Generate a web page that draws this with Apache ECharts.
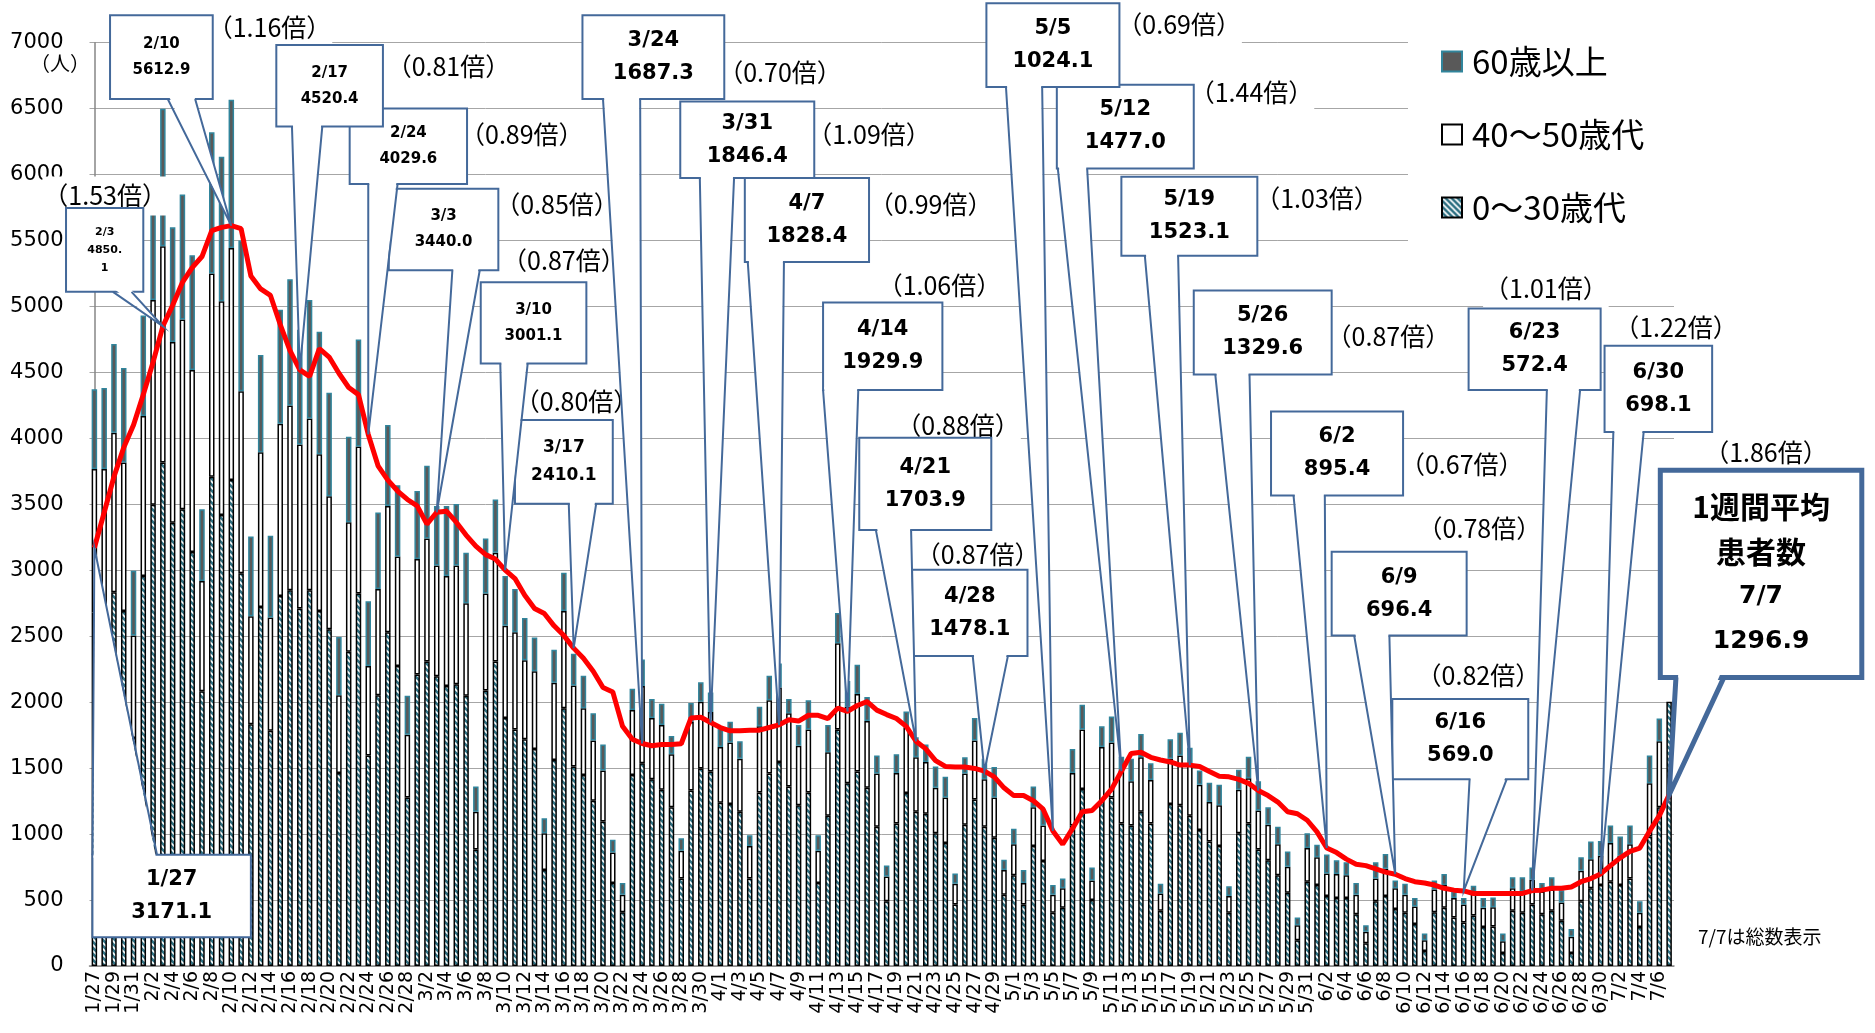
<!DOCTYPE html>
<html>
<head>
<meta charset="utf-8">
<script src="https://cdn.jsdelivr.net/npm/echarts@6/dist/echarts.min.js"></script>
<style>
  html, body { margin: 0; padding: 0; background: #fff; }
  #chart { width: 1875px; height: 1033px; }
</style>
</head>
<body>
<div id="chart"></div>
<script>
// 日付 1/27 ～ 7/7
var monthRanges = [[1, 27, 31], [2, 1, 28], [3, 1, 31], [4, 1, 30], [5, 1, 31], [6, 1, 30], [7, 1, 7]];
var days = [];
monthRanges.forEach(function (m) {
  for (var d = m[1]; d <= m[2]; d++) days.push(m[0] + '/' + d);
});

// 0～30歳代 (7/7 は総数)
var young = [
  2680, 2662, 2834, 2692, 1729, 2957, 3497, 3817, 3360, 3463,
  3139, 2083, 3709, 3419, 3684, 2977, 1832, 2721, 1783, 2805,
  2849, 2711, 2849, 2692, 2554, 1464, 2382, 2824, 1596, 2053,
  2530, 2274, 1277, 2210, 2309, 2196, 2122, 2137, 2048, 884,
  2088, 2309, 1881, 1793, 1719, 1646, 727, 1562, 1955, 1513,
  1449, 1253, 1095, 629, 408, 1449, 1537, 1415, 1336, 1203,
  663, 1330, 1498, 1474, 1238, 1228, 1169, 663, 1316, 1459,
  1547, 1361, 1218, 1316, 629, 1140, 1793, 1385, 1474, 1351,
  1056, 491, 1081, 1312, 1169, 1154, 1007, 933, 467, 1071,
  1262, 1056, 973, 540, 688, 467, 909, 796, 403, 442,
  1066, 1341, 501, 1253, 1277, 1081, 1066, 1169, 1081, 418,
  1228, 1218, 1140, 1032, 943, 909, 403, 1007, 1081, 884,
  801, 688, 555, 196, 639, 614, 530, 516, 516, 393,
  172, 491, 530, 432, 403, 319, 113, 408, 442, 368,
  329, 383, 295, 300, 98, 418, 403, 467, 393, 418,
  344, 98, 491, 589, 614, 639, 614, 663, 295, 982,
  1203, 2004
];
// 40～50歳代
var middle = [
  1088, 1106, 1209, 1125, 776, 1213, 1553, 1640, 1370, 1439,
  1380, 835, 1542, 1621, 1759, 1380, 820, 1174, 860, 1306,
  1400, 1243, 1302, 1188, 1007, 589, 983, 1115, 678, 806,
  958, 830, 477, 875, 933, 840, 835, 899, 703, 285,
  736, 825, 698, 737, 599, 589, 280, 585, 737, 614,
  506, 456, 388, 231, 132, 491, 585, 466, 491, 403,
  211, 520, 506, 451, 422, 467, 403, 246, 501, 555,
  565, 555, 452, 477, 245, 481, 653, 580, 589, 506,
  403, 187, 383, 496, 413, 393, 344, 344, 157, 388,
  447, 359, 304, 187, 235, 162, 294, 270, 137, 147,
  398, 452, 147, 407, 418, 402, 334, 413, 329, 132,
  344, 378, 383, 343, 300, 309, 127, 329, 343, 295,
  270, 235, 197, 113, 255, 211, 172, 182, 172, 147,
  88, 172, 207, 157, 137, 133, 83, 172, 172, 148,
  138, 167, 147, 145, 89, 171, 162, 186, 172, 162,
  137, 123, 231, 221, 221, 294, 221, 260, 108, 403,
  501, null
];
// 60歳以上
var senior = [
  604, 614, 673, 717, 491, 762, 854, 1042, 870, 948,
  870, 545, 1071, 1095, 1124, 1144, 605, 737, 619, 865,
  958, 870, 899, 929, 786, 442, 648, 811, 491, 579,
  614, 541, 294, 516, 550, 452, 531, 466, 383, 192,
  418, 403, 378, 329, 320, 255, 113, 250, 290, 241,
  246, 207, 197, 98, 89, 162, 201, 143, 162, 138,
  94, 144, 147, 148, 148, 157, 132, 83, 148, 187,
  182, 108, 157, 221, 118, 206, 231, 196, 221, 182,
  137, 83, 142, 122, 152, 133, 162, 157, 78, 123,
  172, 157, 231, 79, 118, 98, 158, 123, 74, 74,
  182, 187, 99, 157, 196, 104, 172, 177, 127, 74,
  147, 172, 132, 108, 147, 157, 74, 152, 163, 221,
  132, 133, 117, 59, 113, 94, 143, 103, 98, 89,
  49, 123, 113, 59, 84, 64, 50, 68, 84, 49,
  49, 59, 74, 75, 59, 84, 108, 94, 64, 93,
  94, 59, 103, 133, 113, 133, 147, 143, 88, 211,
  172, null
];
// 1週間平均
var weekAvg = [
  3171, 3438, 3709, 3930, 4102, 4332, 4578, 4850, 5010, 5182,
  5295, 5379, 5575, 5600, 5613, 5590, 5231, 5133, 5084, 4863,
  4666, 4520, 4470, 4681, 4617, 4494, 4386, 4332, 4030, 3792,
  3684, 3601, 3537, 3488, 3350, 3440, 3448, 3365, 3267, 3183,
  3119, 3085, 3001, 2937, 2810, 2711, 2672, 2579, 2505, 2410,
  2333, 2235, 2112, 2078, 1817, 1719, 1687, 1670, 1680, 1680,
  1685, 1881, 1886, 1846, 1808, 1783, 1783, 1788, 1788, 1808,
  1828, 1867, 1857, 1901, 1901, 1876, 1955, 1930, 1975, 2004,
  1940, 1906, 1876, 1817, 1704, 1646, 1557, 1513, 1508, 1508,
  1498, 1478, 1434, 1351, 1292, 1292, 1253, 1189, 1024, 923,
  1041, 1169, 1179, 1253, 1341, 1477, 1611, 1621, 1582, 1562,
  1547, 1523, 1523, 1513, 1474, 1439, 1434, 1415, 1385, 1330,
  1292, 1243, 1169, 1154, 1105, 1017, 895, 860, 810, 771,
  761, 737, 712, 696, 663, 639, 629, 614, 589, 575,
  569, 550, 550, 550, 550, 550, 550, 572, 575, 589,
  589, 599, 639, 663, 698, 761, 820, 869, 894, 1022,
  1140, 1297
];

var calloutDates = ['1/27', '2/3', '2/10', '2/17', '2/24', '3/3', '3/10', '3/17', '3/24', '3/31', '4/7', '4/14',
  '4/21', '4/28', '5/5', '5/12', '5/19', '5/26', '6/2', '6/9', '6/16', '6/23', '6/30', '7/7'];
var calloutValues = ['3171.1', '4850.1', '5612.9', '4520.4', '4029.6', '3440.0', '3001.1', '2410.1', '1687.3',
  '1846.4', '1828.4', '1929.9', '1703.9', '1478.1', '1024.1', '1477.0', '1523.1', '1329.6', '895.4', '696.4',
  '569.0', '572.4', '698.1', '1296.9'];
var ratios = [null, '1.53', '1.16', '0.81', '0.89', '0.85', '0.87', '0.80', '0.70', '1.09', '0.99', '1.06',
  '0.88', '0.87', '0.69', '1.44', '1.03', '0.87', '0.67', '0.78', '0.82', '1.01', '1.22', '1.86'];

// 吹き出しの配置 (x: 日付番号, y: 人数の軸上)
var calloutLayout = [
  { box: [-0.2, 16.0, 844, 218], base: [-0.2, 6.4], up: true, fs: 21, lh: 33 },
  { box: [-2.9, 5.0, 5747, 5111], base: [1.9, 3.8], r: [1.1, 5838], fs: 11, lh: 18, text: '2/3\n4850.\n1' },
  { box: [1.6, 12.1, 7209, 6573], base: [7.5, 10.3], r: [17.9, 7118], fs: 15, lh: 26 },
  { box: [18.6, 29.5, 6982, 6364], base: [20.2, 23.3], r: [36.2, 6818], fs: 15, lh: 26 },
  { box: [26.1, 38.1, 6501, 5929], base: [28.0, 31.0], r: [43.7, 6301], fs: 15, lh: 26 },
  { box: [30.1, 41.3, 5892, 5275], base: [36.6, 39.4], r: [47.3, 5774], fs: 15, lh: 26 },
  { box: [39.5, 50.3, 5184, 4567], base: [41.5, 44.3], r: [48.0, 5347], fs: 15, lh: 26 },
  { box: [43.0, 53.0, 4140, 3504], base: [48.5, 51.3], r: [49.3, 4276], fs: 17, lh: 28 },
  { box: [49.9, 64.4, 7209, 6573], base: [52.0, 55.8], r: [70.1, 6773], fs: 21, lh: 33 },
  { box: [59.9, 73.6, 6555, 5974], base: [61.9, 65.4], r: [79.2, 6301], fs: 21, lh: 33 },
  { box: [66.5, 79.2, 5974, 5338], base: [66.8, 70.5], r: [85.5, 5774], fs: 21, lh: 33 },
  { box: [74.5, 86.7, 5030, 4367], base: [74.5, 78.1], r: [86.4, 5157], fs: 21, lh: 33 },
  { box: [78.2, 91.7, 4004, 3305], base: [79.9, 83.5], r: [88.3, 4095], fs: 21, lh: 33 },
  { box: [83.6, 95.4, 3005, 2351], base: [89.8, 93.4], r: [90.3, 3123], fs: 21, lh: 33 },
  { box: [91.2, 104.8, 7300, 6664], base: [93.2, 96.9], r: [110.9, 7136], fs: 21, lh: 33 },
  { box: [98.4, 112.4, 6682, 6047], base: [98.5, 101.5], r: [118.3, 6619], fs: 21, lh: 33 },
  { box: [105.0, 118.9, 5983, 5384], base: [107.4, 110.8], r: [125.0, 5820], fs: 21, lh: 33 },
  { box: [112.4, 126.5, 5121, 4485], base: [114.6, 118.1], r: [132.3, 4776], fs: 21, lh: 33 },
  { box: [120.3, 133.8, 4204, 3568], base: [122.6, 125.8], r: [139.8, 3804], fs: 21, lh: 33 },
  { box: [126.5, 140.3, 3141, 2506], base: [128.8, 132.4], r: [141.6, 3314], fs: 21, lh: 33 },
  { box: [132.7, 146.6, 2025, 1416], base: [140.6, 144.4], r: [141.5, 2206], fs: 21, lh: 33 },
  { box: [140.5, 154.0, 4984, 4367], base: [148.5, 151.9], r: [148.4, 5139], fs: 21, lh: 33 },
  { box: [154.4, 165.4, 4703, 4049], base: [155.3, 158.4], r: [161.7, 4839], fs: 21, lh: 33 },
  { box: [160.1, 180.7, 3759, 2188], base: [161.7, 166.6], r: [170.9, 3895], fs: 25, lh: 45, lw: 5,
    text: '{j|1週間平均}\n{j|患者数}\n7/7\n1296.9' }
];

var boxBlue = '#44699a';

// 0～30歳代の斜線
var hatch = document.createElement('canvas');
hatch.width = 6;
hatch.height = 6;
var hctx = hatch.getContext('2d');
hctx.fillStyle = '#2f7183';
hctx.fillRect(0, 0, 6, 6);
hctx.strokeStyle = '#fff';
hctx.lineWidth = 1.6;
hctx.beginPath();
hctx.moveTo(0, 0); hctx.lineTo(6, 6);
hctx.moveTo(-3, 3); hctx.lineTo(3, 9);
hctx.moveTo(3, -3); hctx.lineTo(9, 3);
hctx.stroke();

function renderCallout(params, api) {
  var k = params.dataIndex;
  var L = calloutLayout[k];
  var tip = api.coord([api.value(0), api.value(1)]);
  var tl = api.coord([L.box[0], L.box[2]]);
  var br = api.coord([L.box[1], L.box[3]]);
  var lw = L.lw || 2;
  var edgeY = L.up ? tl[1] : br[1];
  var inY = L.up ? edgeY + lw + 1 : edgeY - lw - 1;
  var b0 = api.coord([L.base[0], 0])[0];
  var b1 = api.coord([L.base[1], 0])[0];
  var z = (calloutLayout.length - k) * 10;
  var kids = [
    {
      type: 'rect', z2: z,
      shape: { x: tl[0], y: tl[1], width: br[0] - tl[0], height: br[1] - tl[1] },
      style: { fill: '#fff', stroke: boxBlue, lineWidth: lw }
    },
    {
      type: 'polygon', z2: z + 1,
      shape: { points: [[b0 + lw / 2, inY], [b1 - lw / 2, inY], tip] },
      style: { fill: '#fff' }
    },
    {
      type: 'polyline', z2: z + 2,
      shape: { points: [[b0, edgeY], tip, [b1, edgeY]] },
      style: { stroke: boxBlue, lineWidth: lw, fill: null }
    },
    {
      type: 'text', z2: z + 3,
      x: (tl[0] + br[0]) / 2, y: (tl[1] + br[1]) / 2,
      style: {
        text: L.text || (calloutDates[k] + '\n' + calloutValues[k]),
        fill: '#000', fontSize: L.fs, fontWeight: 'bold',
        fontFamily: '"DejaVu Sans", "Noto Sans CJK JP"',
        lineHeight: L.lh, align: 'center', verticalAlign: 'middle',
        rich: {
          j: { fontSize: 30, fontWeight: 'bold', fontFamily: 'Noto Sans CJK JP', lineHeight: L.lh, fill: '#000' }
        }
      }
    }
  ];
  if (ratios[k]) {
    var rp = api.coord(L.r);
    kids.push({
      type: 'text', z2: 1, x: rp[0], y: rp[1],
      style: {
        text: '（' + ratios[k] + '倍）', fill: '#000', fontSize: 25,
        fontFamily: '"Noto Sans CJK JP"', align: 'center', verticalAlign: 'middle',
        backgroundColor: '#fff', padding: [7, 1]
      }
    });
  }
  return { type: 'group', children: kids };
}

var chart = echarts.init(document.getElementById('chart'));
chart.setOption({
  animation: false,
  backgroundColor: '#fff',
  grid: { left: 89.5, right: 201, top: 42.7, bottom: 67 },
  legend: {
    orient: 'vertical', left: 1408, top: 28, padding: [17, 70, 40, 33],
    backgroundColor: '#fff', itemWidth: 20, itemHeight: 20, itemGap: 40,
    icon: 'rect', selectedMode: false,
    data: ['60歳以上', '40～50歳代', '0～30歳代'],
    textStyle: { fontSize: 33, fontFamily: 'Noto Sans CJK JP', color: '#000', padding: [0, 0, 0, 5] }
  },
  xAxis: [
    {
      type: 'category', data: days,
      axisLine: { lineStyle: { color: '#868686', width: 1.5 } },
      axisTick: { show: false },
      axisLabel: { interval: 1, rotate: 90, margin: 5, fontSize: 19, fontFamily: 'DejaVu Sans', color: '#000' }
    },
    { type: 'value', min: -0.5, max: days.length - 0.5, show: false }
  ],
  yAxis: {
    type: 'value', min: 0, max: 7000, interval: 500,
    axisLine: { show: true, lineStyle: { color: '#868686', width: 1.5 } },
    axisTick: { show: false },
    axisLabel: {
      margin: 26, fontSize: 21, fontFamily: 'DejaVu Sans', color: '#000',
      formatter: function (v) { return String(v); }
    },
    splitLine: { lineStyle: { color: '#a6a6a6', width: 1 } }
  },
  graphic: [
    { type: 'text', left: 30, top: 53, style: { text: '（人）', fontSize: 20, fontFamily: 'Noto Sans CJK JP', fill: '#000' } },
    { type: 'text', left: 1698, top: 927, style: { text: '7/7は総数表示', fontSize: 19, fontFamily: 'Noto Sans CJK JP', fill: '#000' } }
  ],
  series: [
    {
      name: '0～30歳代', type: 'bar', stack: 'age', data: young, barWidth: 5.5,
      itemStyle: { color: { image: hatch, repeat: 'repeat' }, borderColor: '#000', borderWidth: 1.5 }
    },
    {
      name: '40～50歳代', type: 'bar', stack: 'age', data: middle, barWidth: 5.5,
      itemStyle: { color: '#fff', borderColor: '#000', borderWidth: 1.5 }
    },
    {
      name: '60歳以上', type: 'bar', stack: 'age', data: senior, barWidth: 5.5,
      itemStyle: { color: '#595959', borderColor: '#31859c', borderWidth: 1.5 }
    },
    {
      name: '1週間平均', type: 'line', data: weekAvg, symbol: 'none', z: 5,
      lineStyle: { color: '#ff0000', width: 5 }
    },
    {
      type: 'custom', xAxisIndex: 1, yAxisIndex: 0, z: 10, clip: false,
      encode: { x: 0, y: 1 },
      data: calloutDates.map(function (d, k) {
        return [days.indexOf(d), parseFloat(calloutValues[k])];
      }),
      renderItem: renderCallout
    }
  ]
});
</script>
</body>
</html>
